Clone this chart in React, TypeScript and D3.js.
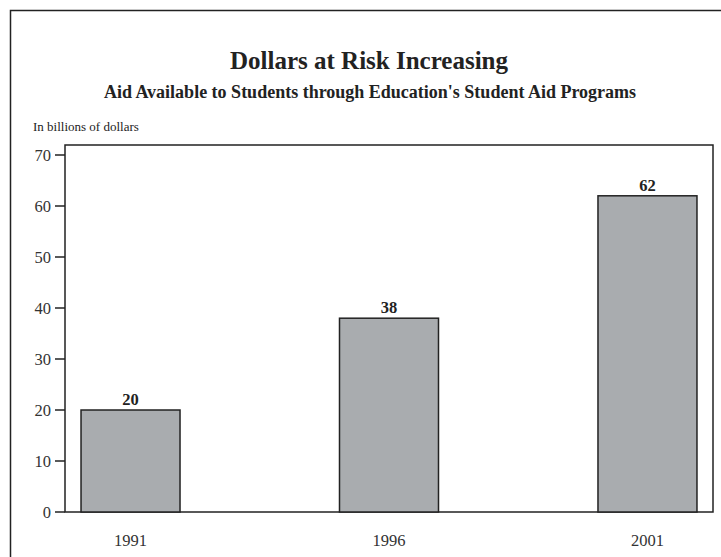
import React from "react";
import * as d3 from "d3";

const years = ["1991", "1996", "2001"];
const values = [20, 38, 62];
const yTicks = [0, 10, 20, 30, 40, 50, 60, 70];

export default function App() {
  const W = 721, H = 557;
  const left = 65, right = 713, top = 145, bottom = 512;
  const x = d3.scalePoint<string>().domain(years).range([left, right]).padding(0.2535);
  const y = d3.scaleLinear().domain([0, 70]).range([bottom, 155]);
  const bw = 99;
  const font = "'Liberation Serif', 'Times New Roman', serif";
  return (
    <svg width={W} height={H} style={{ position: "absolute", left: 0, top: 0, background: "#fff" }} fontFamily={font}>
      <rect x={0} y={0} width={W} height={H} fill="#fff" />
      <path d={`M10.5,${H + 5}V10.5H${W + 5}`} fill="none" stroke="#222" strokeWidth={1.5} />
      <text x={369} y={69} textAnchor="middle" fontWeight="bold" fontSize={25} fill="#222">Dollars at Risk Increasing</text>
      <text x={370} y={98} textAnchor="middle" fontWeight="bold" fontSize={18} fill="#222">Aid Available to Students through Education's Student Aid Programs</text>
      <text x={33} y={131} fontSize={13} fill="#222">In billions of dollars</text>
      <rect x={left} y={top} width={right - left} height={bottom - top} fill="none" stroke="#222" strokeWidth={1.5} />
      {yTicks.map((t) => (
        <g key={t}>
          <line x1={55} x2={left} y1={y(t)} y2={y(t)} stroke="#222" strokeWidth={1.5} />
          <text x={51} y={y(t)} dy="0.35em" textAnchor="end" fontSize={16.5} fill="#333">{t}</text>
        </g>
      ))}
      {years.map((yr, i) => (
        <g key={yr}>
          <rect x={(x(yr) as number) - bw / 2} y={y(values[i])} width={bw} height={bottom - y(values[i])} fill="#a9acaf" stroke="#222" strokeWidth={1.5} />
          <text x={x(yr)} y={y(values[i]) - 5} textAnchor="middle" fontWeight="bold" fontSize={16.5} fill="#222">{values[i]}</text>
          <text x={x(yr)} y={546} textAnchor="middle" fontSize={16.5} fill="#333">{yr}</text>
        </g>
      ))}
    </svg>
  );
}
